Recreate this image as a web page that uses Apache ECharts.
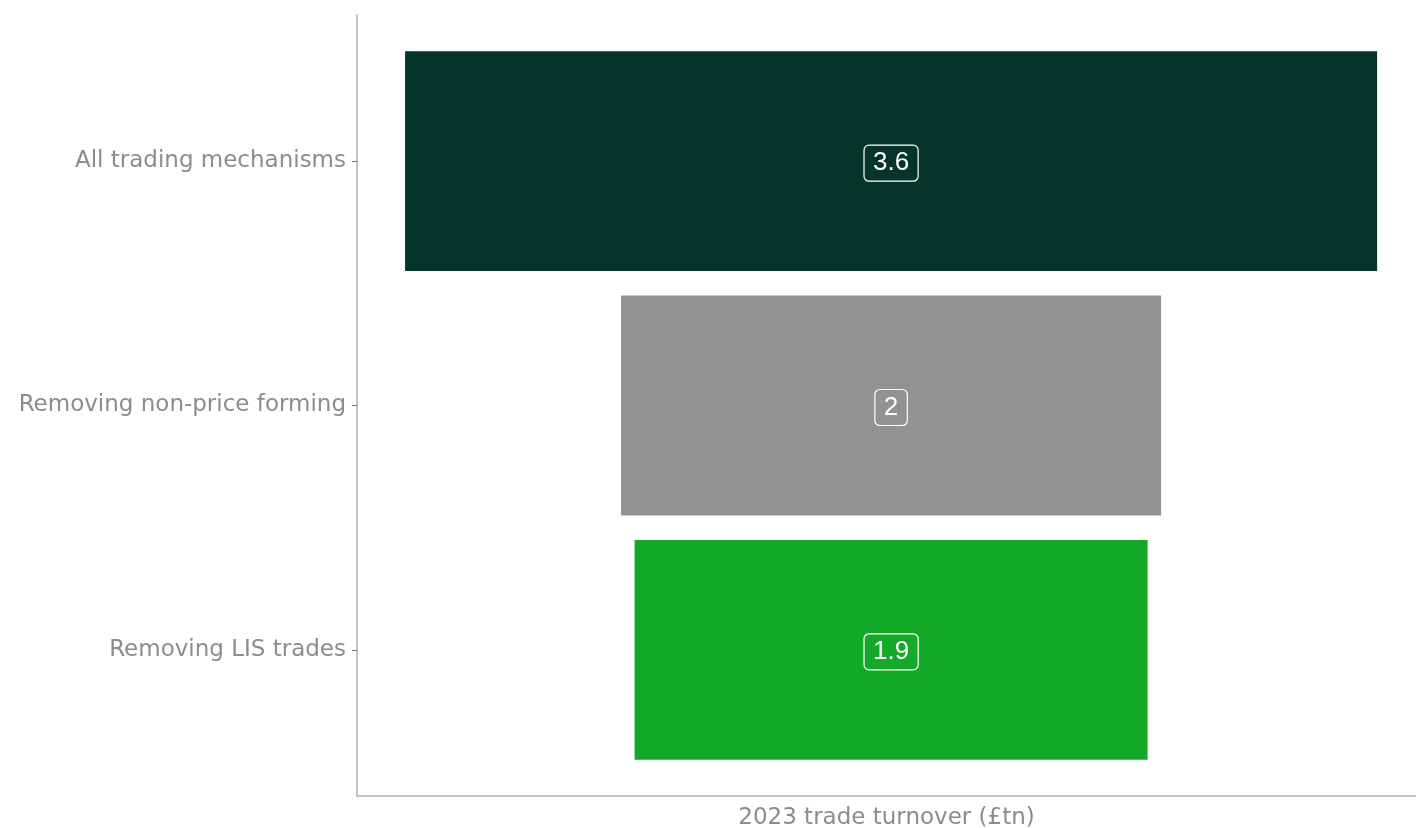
<!DOCTYPE html>
<html>
<head>
<meta charset="utf-8">
<script src="https://cdn.jsdelivr.net/npm/echarts@6/dist/echarts.min.js"></script>
<style>
  html, body { margin: 0; padding: 0; background: #fff; }
  #chart { width: 1416px; height: 828px; }
</style>
</head>
<body>
<div id="chart"></div>
<script>
// Trade turnover after successive filters (£tn)
const categories = ['All trading mechanisms', 'Removing non-price forming', 'Removing LIS trades'];
const turnover = [3.6, 2, 1.9];
const barColors = ['#06342a', '#929292', '#15a92a'];
const axisTitle = '2023 trade turnover (£tn)';

const maxVal = Math.max(...turnover);
// transparent spacer that centres each bar on the widest one
const spacer = turnover.map(v => (maxVal - v) / 2);

const labelFont = 'DejaVu Sans';
const gray = '#8c8c8c';
const lineGray = '#b3b3b3';

const chart = echarts.init(document.getElementById('chart'));
chart.setOption({
  animation: false,
  grid: [
    // frame grid: draws the axis lines over the full panel
    { left: 357, right: 0, top: 15, bottom: 32, outerBoundsMode: 'none' },
    // bar grid: inset top/bottom so bands carry padding
    { left: 357, right: 0, top: 39, bottom: 56, outerBoundsMode: 'none' }
  ],
  xAxis: [
    {
      gridIndex: 0, type: 'value', min: 0, max: 1,
      axisLine: { show: true, lineStyle: { color: lineGray, width: 1.5 } },
      axisTick: { show: false }, axisLabel: { show: false }, splitLine: { show: false },
      name: axisTitle, nameLocation: 'middle', nameGap: 11,
      nameTextStyle: { fontFamily: labelFont, fontSize: 23, color: gray, verticalAlign: 'top' }
    },
    {
      gridIndex: 1, type: 'value', min: -0.178, max: 3.744,
      show: false, splitLine: { show: false }
    }
  ],
  yAxis: [
    {
      gridIndex: 0, type: 'value', min: 0, max: 1,
      axisLine: { show: true, lineStyle: { color: lineGray, width: 1.5 } },
      axisTick: { show: false }, axisLabel: { show: false }, splitLine: { show: false }
    },
    {
      gridIndex: 1, type: 'category', data: categories, inverse: true,
      axisLine: { show: false, onZero: false },
      axisTick: { show: true, length: 5, alignWithLabel: true, lineStyle: { color: '#777777' } },
      axisLabel: { fontFamily: labelFont, fontSize: 23, color: gray, margin: 11, padding: [4, 0, 0, 0] },
      splitLine: { show: false }
    }
  ],
  series: [
    {
      type: 'bar', xAxisIndex: 1, yAxisIndex: 1, stack: 'funnel',
      data: spacer, barCategoryGap: '10%',
      itemStyle: { color: 'transparent' }, silent: true
    },
    {
      type: 'bar', xAxisIndex: 1, yAxisIndex: 1, stack: 'funnel',
      barCategoryGap: '10%',
      data: turnover.map((v, i) => ({ value: v, itemStyle: { color: barColors[i] } })),
      label: {
        show: true, position: 'inside', offset: [0, 2],
        formatter: p => String(p.value),
        fontFamily: 'Liberation Sans', fontSize: 26, color: '#ffffff',
        borderColor: '#ffffff', borderWidth: 1.2, borderRadius: 5,
        padding: [6, 9, 4, 9]
      }
    }
  ]
});
</script>
</body>
</html>
